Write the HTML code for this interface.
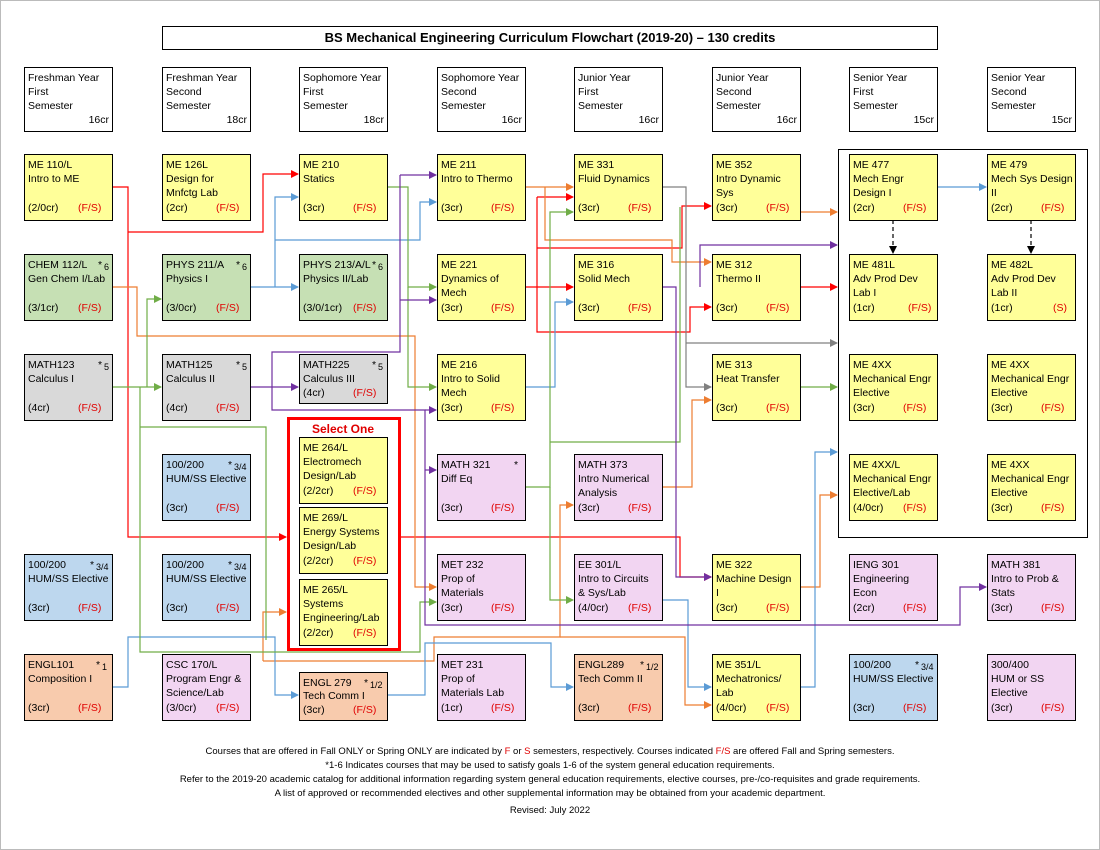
<!DOCTYPE html>
<html><head><meta charset="utf-8"><style>
body{margin:0;background:#fff}
svg{display:block}
text{font-family:"Liberation Sans",sans-serif;font-size:10.5px;fill:#000}
.s{fill:#e00000}
.n{font-size:9px}
.f{font-size:9.5px}
rect.b{stroke:#000;stroke-width:1}
.c{fill:none;stroke-width:1.2}
</style></head><body>
<svg width="1100" height="850" viewBox="0 0 1100 850" xmlns="http://www.w3.org/2000/svg">
<defs>
<marker id="r" markerWidth="8" markerHeight="8" refX="7" refY="4" orient="auto" markerUnits="userSpaceOnUse"><path d="M0,0L8,4L0,8z" fill="#ff0000"/></marker>
<marker id="o" markerWidth="8" markerHeight="8" refX="7" refY="4" orient="auto" markerUnits="userSpaceOnUse"><path d="M0,0L8,4L0,8z" fill="#ed7d31"/></marker>
<marker id="bl" markerWidth="8" markerHeight="8" refX="7" refY="4" orient="auto" markerUnits="userSpaceOnUse"><path d="M0,0L8,4L0,8z" fill="#5b9bd5"/></marker>
<marker id="g" markerWidth="8" markerHeight="8" refX="7" refY="4" orient="auto" markerUnits="userSpaceOnUse"><path d="M0,0L8,4L0,8z" fill="#70ad47"/></marker>
<marker id="p" markerWidth="8" markerHeight="8" refX="7" refY="4" orient="auto" markerUnits="userSpaceOnUse"><path d="M0,0L8,4L0,8z" fill="#7030a0"/></marker>
<marker id="gr" markerWidth="8" markerHeight="8" refX="7" refY="4" orient="auto" markerUnits="userSpaceOnUse"><path d="M0,0L8,4L0,8z" fill="#808080"/></marker>
<marker id="k" markerWidth="8" markerHeight="8" refX="7" refY="4" orient="auto" markerUnits="userSpaceOnUse"><path d="M0,0L8,4L0,8z" fill="#000"/></marker>
</defs>
<rect x="0.5" y="0.5" width="1099" height="849" fill="#fff" stroke="#bbb"/>
<!-- title -->
<rect x="162.5" y="26.5" width="775" height="23" fill="#fff" stroke="#000"/>
<text x="550" y="42" text-anchor="middle" style="font-size:13px;font-weight:bold">BS Mechanical Engineering Curriculum Flowchart (2019-20) – 130 credits</text>
<!-- headers -->
<g>
<rect x="24.5" y="67.5" width="88" height="64" fill="#fff" stroke="#000"/><text x="28" y="81">Freshman Year</text><text x="28" y="95">First</text><text x="28" y="109">Semester</text><text x="109" y="123" text-anchor="end">16cr</text>
<rect x="162.5" y="67.5" width="88" height="64" fill="#fff" stroke="#000"/><text x="166" y="81">Freshman Year</text><text x="166" y="95">Second</text><text x="166" y="109">Semester</text><text x="247" y="123" text-anchor="end">18cr</text>
<rect x="299.5" y="67.5" width="88" height="64" fill="#fff" stroke="#000"/><text x="303" y="81">Sophomore Year</text><text x="303" y="95">First</text><text x="303" y="109">Semester</text><text x="384" y="123" text-anchor="end">18cr</text>
<rect x="437.5" y="67.5" width="88" height="64" fill="#fff" stroke="#000"/><text x="441" y="81">Sophomore Year</text><text x="441" y="95">Second</text><text x="441" y="109">Semester</text><text x="522" y="123" text-anchor="end">16cr</text>
<rect x="574.5" y="67.5" width="88" height="64" fill="#fff" stroke="#000"/><text x="578" y="81">Junior Year</text><text x="578" y="95">First</text><text x="578" y="109">Semester</text><text x="659" y="123" text-anchor="end">16cr</text>
<rect x="712.5" y="67.5" width="88" height="64" fill="#fff" stroke="#000"/><text x="716" y="81">Junior Year</text><text x="716" y="95">Second</text><text x="716" y="109">Semester</text><text x="797" y="123" text-anchor="end">16cr</text>
<rect x="849.5" y="67.5" width="88" height="64" fill="#fff" stroke="#000"/><text x="853" y="81">Senior Year</text><text x="853" y="95">First</text><text x="853" y="109">Semester</text><text x="934" y="123" text-anchor="end">15cr</text>
<rect x="987.5" y="67.5" width="88" height="64" fill="#fff" stroke="#000"/><text x="991" y="81">Senior Year</text><text x="991" y="95">Second</text><text x="991" y="109">Semester</text><text x="1072" y="123" text-anchor="end">15cr</text>
</g>
<!-- containers -->
<rect x="838.5" y="149.5" width="249" height="388" fill="none" stroke="#000"/>
<rect x="288.5" y="418.5" width="111" height="231" fill="none" stroke="#ff0000" stroke-width="3"/>
<text x="343" y="433" text-anchor="middle" style="font-size:12px;font-weight:bold;fill:#e00000">Select One</text>

<!-- connectors -->
<g class="c">
<path stroke="#ff0000" d="M112,187H128V537H286" marker-end="url(#r)"/>
<path stroke="#ff0000" d="M128,232H263V174H298" marker-end="url(#r)"/>
<path stroke="#ff0000" d="M400,537H680V577H711" marker-end="url(#r)"/>
<path stroke="#ff0000" d="M525,287H573" marker-end="url(#r)"/>
<path stroke="#ff0000" d="M537,197H573" marker-end="url(#r)"/>
<path stroke="#ff0000" d="M537,197V332H690V307H711" marker-end="url(#r)"/>
<path stroke="#ff0000" d="M537,248H682V206H711" marker-end="url(#r)"/>
<path stroke="#ff0000" d="M800,287H837" marker-end="url(#r)"/>

<path stroke="#ed7d31" d="M525,187H573" marker-end="url(#o)"/>
<path stroke="#ed7d31" d="M545,187V240H672V262H711" marker-end="url(#o)"/>
<path stroke="#ed7d31" d="M112,287H137V336H415V587H436" marker-end="url(#o)"/>
<path stroke="#ed7d31" d="M800,212H837" marker-end="url(#o)"/>
<path stroke="#ed7d31" d="M662,487H692V400H711" marker-end="url(#o)"/>
<path stroke="#ed7d31" d="M263,661H434V637H560V505H573" marker-end="url(#o)"/>
<path stroke="#ed7d31" d="M263,661V612H286" marker-end="url(#o)"/>
<path stroke="#ed7d31" d="M560,637H685V705H711" marker-end="url(#o)"/>
<path stroke="#ed7d31" d="M800,587H820V495H837" marker-end="url(#o)"/>

<path stroke="#5b9bd5" d="M250,287H298" marker-end="url(#bl)"/>
<path stroke="#5b9bd5" d="M275,287V197H298" marker-end="url(#bl)"/>
<path stroke="#5b9bd5" d="M275,240H420V202H436" marker-end="url(#bl)"/>
<path stroke="#5b9bd5" d="M525,387H555V302H573" marker-end="url(#bl)"/>
<path stroke="#5b9bd5" d="M937,187H986" marker-end="url(#bl)"/>
<path stroke="#5b9bd5" d="M112,687H128V637H275V695H298" marker-end="url(#bl)"/>
<path stroke="#5b9bd5" d="M387,695H425V643H551V687H573" marker-end="url(#bl)"/>
<path stroke="#5b9bd5" d="M662,600H688V687H711" marker-end="url(#bl)"/>
<path stroke="#5b9bd5" d="M800,687H815V452H837" marker-end="url(#bl)"/>

<path stroke="#808080" d="M662,187H686V387H711" marker-end="url(#gr)"/>
<path stroke="#808080" d="M686,343H837" marker-end="url(#gr)"/>

<path stroke="#70ad47" d="M112,387H161" marker-end="url(#g)"/>
<path stroke="#70ad47" d="M147,387V299H161" marker-end="url(#g)"/>
<path stroke="#70ad47" d="M140,387V652H420V602H436" marker-end="url(#g)"/>
<path stroke="#70ad47" d="M140,427H266V640"/>
<path stroke="#70ad47" d="M387,187H408V287H436" marker-end="url(#g)"/>
<path stroke="#70ad47" d="M408,287V387H436" marker-end="url(#g)"/>
<path stroke="#70ad47" d="M525,487H550V212H573" marker-end="url(#g)"/>
<path stroke="#70ad47" d="M550,487V600H573" marker-end="url(#g)"/>
<path stroke="#70ad47" d="M550,442H680V207"/>
<path stroke="#70ad47" d="M800,387H837" marker-end="url(#g)"/>

<path stroke="#7030a0" d="M250,387H298" marker-end="url(#p)"/>
<path stroke="#7030a0" d="M400,175V352H272V410H425V625H960V587H986" marker-end="url(#p)"/>
<path stroke="#7030a0" d="M400,175H436" marker-end="url(#p)"/>
<path stroke="#7030a0" d="M400,300H436" marker-end="url(#p)"/>
<path stroke="#7030a0" d="M425,410H436" marker-end="url(#p)"/>
<path stroke="#7030a0" d="M425,470H436" marker-end="url(#p)"/>
<path stroke="#7030a0" d="M662,287H676V577H711" marker-end="url(#p)"/>
<path stroke="#7030a0" d="M700,287V245H837" marker-end="url(#p)"/>

<path stroke="#000" stroke-dasharray="4,3" d="M893,220V253" marker-end="url(#k)"/>
<path stroke="#000" stroke-dasharray="4,3" d="M1031,220V253" marker-end="url(#k)"/>
</g>

<!-- Row 1 -->
<g>
<rect class="b" x="24.5" y="154.5" width="88" height="66" fill="#ffff99"/><text x="28" y="168">ME 110/L</text><text x="28" y="182">Intro to ME</text><text x="28" y="211">(2/0cr)</text><text class="s" x="78" y="211">(F/S)</text>
<rect class="b" x="162.5" y="154.5" width="88" height="66" fill="#ffff99"/><text x="166" y="168">ME 126L</text><text x="166" y="182">Design for</text><text x="166" y="196">Mnfctg Lab</text><text x="166" y="211">(2cr)</text><text class="s" x="216" y="211">(F/S)</text>
<rect class="b" x="299.5" y="154.5" width="88" height="66" fill="#ffff99"/><text x="303" y="168">ME 210</text><text x="303" y="182">Statics</text><text x="303" y="211">(3cr)</text><text class="s" x="353" y="211">(F/S)</text>
<rect class="b" x="437.5" y="154.5" width="88" height="66" fill="#ffff99"/><text x="441" y="168">ME 211</text><text x="441" y="182">Intro to Thermo</text><text x="441" y="211">(3cr)</text><text class="s" x="491" y="211">(F/S)</text>
<rect class="b" x="574.5" y="154.5" width="88" height="66" fill="#ffff99"/><text x="578" y="168">ME 331</text><text x="578" y="182">Fluid Dynamics</text><text x="578" y="211">(3cr)</text><text class="s" x="628" y="211">(F/S)</text>
<rect class="b" x="712.5" y="154.5" width="88" height="66" fill="#ffff99"/><text x="716" y="168">ME 352</text><text x="716" y="182">Intro Dynamic</text><text x="716" y="196">Sys</text><text x="716" y="211">(3cr)</text><text class="s" x="766" y="211">(F/S)</text>
<rect class="b" x="849.5" y="154.5" width="88" height="66" fill="#ffff99"/><text x="853" y="168">ME 477</text><text x="853" y="182">Mech Engr</text><text x="853" y="196">Design I</text><text x="853" y="211">(2cr)</text><text class="s" x="903" y="211">(F/S)</text>
<rect class="b" x="987.5" y="154.5" width="88" height="66" fill="#ffff99"/><text x="991" y="168">ME 479</text><text x="991" y="182">Mech Sys Design</text><text x="991" y="196">II</text><text x="991" y="211">(2cr)</text><text class="s" x="1041" y="211">(F/S)</text>
</g>
<!-- Row 2 -->
<g>
<rect class="b" x="24.5" y="254.5" width="88" height="66" fill="#c6e0b4"/><text x="28" y="268">CHEM 112/L</text><text x="98" y="268">*</text><text class="n" x="104" y="270">6</text><text x="28" y="282">Gen Chem I/Lab</text><text x="28" y="311">(3/1cr)</text><text class="s" x="78" y="311">(F/S)</text>
<rect class="b" x="162.5" y="254.5" width="88" height="66" fill="#c6e0b4"/><text x="166" y="268">PHYS 211/A</text><text x="236" y="268">*</text><text class="n" x="242" y="270">6</text><text x="166" y="282">Physics I</text><text x="166" y="311">(3/0cr)</text><text class="s" x="216" y="311">(F/S)</text>
<rect class="b" x="299.5" y="254.5" width="88" height="66" fill="#c6e0b4"/><text x="303" y="268">PHYS 213/A/L</text><text x="372" y="268">*</text><text class="n" x="378" y="270">6</text><text x="303" y="282">Physics II/Lab</text><text x="303" y="311">(3/0/1cr)</text><text class="s" x="353" y="311">(F/S)</text>
<rect class="b" x="437.5" y="254.5" width="88" height="66" fill="#ffff99"/><text x="441" y="268">ME 221</text><text x="441" y="282">Dynamics of</text><text x="441" y="296">Mech</text><text x="441" y="311">(3cr)</text><text class="s" x="491" y="311">(F/S)</text>
<rect class="b" x="574.5" y="254.5" width="88" height="66" fill="#ffff99"/><text x="578" y="268">ME 316</text><text x="578" y="282">Solid Mech</text><text x="578" y="311">(3cr)</text><text class="s" x="628" y="311">(F/S)</text>
<rect class="b" x="712.5" y="254.5" width="88" height="66" fill="#ffff99"/><text x="716" y="268">ME 312</text><text x="716" y="282">Thermo II</text><text x="716" y="311">(3cr)</text><text class="s" x="766" y="311">(F/S)</text>
<rect class="b" x="849.5" y="254.5" width="88" height="66" fill="#ffff99"/><text x="853" y="268">ME 481L</text><text x="853" y="282">Adv Prod Dev</text><text x="853" y="296">Lab I</text><text x="853" y="311">(1cr)</text><text class="s" x="908" y="311">(F/S)</text>
<rect class="b" x="987.5" y="254.5" width="88" height="66" fill="#ffff99"/><text x="991" y="268">ME 482L</text><text x="991" y="282">Adv Prod Dev</text><text x="991" y="296">Lab II</text><text x="991" y="311">(1cr)</text><text class="s" x="1053" y="311">(S)</text>
</g>
<!-- Row 3 -->
<g>
<rect class="b" x="24.5" y="354.5" width="88" height="66" fill="#d9d9d9"/><text x="28" y="368">MATH123</text><text x="98" y="368">*</text><text class="n" x="104" y="370">5</text><text x="28" y="382">Calculus I</text><text x="28" y="411">(4cr)</text><text class="s" x="78" y="411">(F/S)</text>
<rect class="b" x="162.5" y="354.5" width="88" height="66" fill="#d9d9d9"/><text x="166" y="368">MATH125</text><text x="236" y="368">*</text><text class="n" x="242" y="370">5</text><text x="166" y="382">Calculus II</text><text x="166" y="411">(4cr)</text><text class="s" x="216" y="411">(F/S)</text>
<rect class="b" x="299.5" y="354.5" width="88" height="49" fill="#d9d9d9"/><text x="303" y="368">MATH225</text><text x="372" y="368">*</text><text class="n" x="378" y="370">5</text><text x="303" y="382">Calculus III</text><text x="303" y="396">(4cr)</text><text class="s" x="353" y="396">(F/S)</text>
<rect class="b" x="437.5" y="354.5" width="88" height="66" fill="#ffff99"/><text x="441" y="368">ME 216</text><text x="441" y="382">Intro to Solid</text><text x="441" y="396">Mech</text><text x="441" y="411">(3cr)</text><text class="s" x="491" y="411">(F/S)</text>
<rect class="b" x="712.5" y="354.5" width="88" height="66" fill="#ffff99"/><text x="716" y="368">ME 313</text><text x="716" y="382">Heat Transfer</text><text x="716" y="411">(3cr)</text><text class="s" x="766" y="411">(F/S)</text>
<rect class="b" x="849.5" y="354.5" width="88" height="66" fill="#ffff99"/><text x="853" y="368">ME 4XX</text><text x="853" y="382">Mechanical Engr</text><text x="853" y="396">Elective</text><text x="853" y="411">(3cr)</text><text class="s" x="903" y="411">(F/S)</text>
<rect class="b" x="987.5" y="354.5" width="88" height="66" fill="#ffff99"/><text x="991" y="368">ME 4XX</text><text x="991" y="382">Mechanical Engr</text><text x="991" y="396">Elective</text><text x="991" y="411">(3cr)</text><text class="s" x="1041" y="411">(F/S)</text>
</g>
<!-- Row 4 -->
<g>
<rect class="b" x="162.5" y="454.5" width="88" height="66" fill="#bdd7ee"/><text x="166" y="468">100/200</text><text x="228" y="468">*</text><text class="n" x="234" y="470">3/4</text><text x="166" y="482">HUM/SS Elective</text><text x="166" y="511">(3cr)</text><text class="s" x="216" y="511">(F/S)</text>
<rect class="b" x="299.5" y="437.5" width="88" height="66" fill="#ffff99"/><text x="303" y="451">ME 264/L</text><text x="303" y="465">Electromech</text><text x="303" y="479">Design/Lab</text><text x="303" y="494">(2/2cr)</text><text class="s" x="353" y="494">(F/S)</text>
<rect class="b" x="299.5" y="507.5" width="88" height="66" fill="#ffff99"/><text x="303" y="521">ME 269/L</text><text x="303" y="535">Energy Systems</text><text x="303" y="549">Design/Lab</text><text x="303" y="564">(2/2cr)</text><text class="s" x="353" y="564">(F/S)</text>
<rect class="b" x="299.5" y="579.5" width="88" height="66" fill="#ffff99"/><text x="303" y="593">ME 265/L</text><text x="303" y="607">Systems</text><text x="303" y="621">Engineering/Lab</text><text x="303" y="636">(2/2cr)</text><text class="s" x="353" y="636">(F/S)</text>
<rect class="b" x="437.5" y="454.5" width="88" height="66" fill="#f2d5f2"/><text x="441" y="468">MATH 321</text><text x="514" y="468">*</text><text x="441" y="482">Diff Eq</text><text x="441" y="511">(3cr)</text><text class="s" x="491" y="511">(F/S)</text>
<rect class="b" x="574.5" y="454.5" width="88" height="66" fill="#f2d5f2"/><text x="578" y="468">MATH 373</text><text x="578" y="482">Intro Numerical</text><text x="578" y="496">Analysis</text><text x="578" y="511">(3cr)</text><text class="s" x="628" y="511">(F/S)</text>
<rect class="b" x="849.5" y="454.5" width="88" height="66" fill="#ffff99"/><text x="853" y="468">ME 4XX/L</text><text x="853" y="482">Mechanical Engr</text><text x="853" y="496">Elective/Lab</text><text x="853" y="511">(4/0cr)</text><text class="s" x="903" y="511">(F/S)</text>
<rect class="b" x="987.5" y="454.5" width="88" height="66" fill="#ffff99"/><text x="991" y="468">ME 4XX</text><text x="991" y="482">Mechanical Engr</text><text x="991" y="496">Elective</text><text x="991" y="511">(3cr)</text><text class="s" x="1041" y="511">(F/S)</text>
</g>
<!-- Row 5 -->
<g>
<rect class="b" x="24.5" y="554.5" width="88" height="66" fill="#bdd7ee"/><text x="28" y="568">100/200</text><text x="90" y="568">*</text><text class="n" x="96" y="570">3/4</text><text x="28" y="582">HUM/SS Elective</text><text x="28" y="611">(3cr)</text><text class="s" x="78" y="611">(F/S)</text>
<rect class="b" x="162.5" y="554.5" width="88" height="66" fill="#bdd7ee"/><text x="166" y="568">100/200</text><text x="228" y="568">*</text><text class="n" x="234" y="570">3/4</text><text x="166" y="582">HUM/SS Elective</text><text x="166" y="611">(3cr)</text><text class="s" x="216" y="611">(F/S)</text>
<rect class="b" x="437.5" y="554.5" width="88" height="66" fill="#f2d5f2"/><text x="441" y="568">MET 232</text><text x="441" y="582">Prop of</text><text x="441" y="596">Materials</text><text x="441" y="611">(3cr)</text><text class="s" x="491" y="611">(F/S)</text>
<rect class="b" x="574.5" y="554.5" width="88" height="66" fill="#f2d5f2"/><text x="578" y="568">EE 301/L</text><text x="578" y="582">Intro to Circuits</text><text x="578" y="596">&amp; Sys/Lab</text><text x="578" y="611">(4/0cr)</text><text class="s" x="628" y="611">(F/S)</text>
<rect class="b" x="712.5" y="554.5" width="88" height="66" fill="#ffff99"/><text x="716" y="568">ME 322</text><text x="716" y="582">Machine Design</text><text x="716" y="596">I</text><text x="716" y="611">(3cr)</text><text class="s" x="766" y="611">(F/S)</text>
<rect class="b" x="849.5" y="554.5" width="88" height="66" fill="#f2d5f2"/><text x="853" y="568">IENG 301</text><text x="853" y="582">Engineering</text><text x="853" y="596">Econ</text><text x="853" y="611">(2cr)</text><text class="s" x="903" y="611">(F/S)</text>
<rect class="b" x="987.5" y="554.5" width="88" height="66" fill="#f2d5f2"/><text x="991" y="568">MATH 381</text><text x="991" y="582">Intro to Prob &amp;</text><text x="991" y="596">Stats</text><text x="991" y="611">(3cr)</text><text class="s" x="1041" y="611">(F/S)</text>
</g>
<!-- Row 6 -->
<g>
<rect class="b" x="24.5" y="654.5" width="88" height="66" fill="#f8cbad"/><text x="28" y="668">ENGL101</text><text x="96" y="668">*</text><text class="n" x="102" y="670">1</text><text x="28" y="682">Composition I</text><text x="28" y="711">(3cr)</text><text class="s" x="78" y="711">(F/S)</text>
<rect class="b" x="162.5" y="654.5" width="88" height="66" fill="#f2d5f2"/><text x="166" y="668">CSC 170/L</text><text x="166" y="682">Program Engr &amp;</text><text x="166" y="696">Science/Lab</text><text x="166" y="711">(3/0cr)</text><text class="s" x="216" y="711">(F/S)</text>
<rect class="b" x="299.5" y="672.5" width="88" height="48" fill="#f8cbad"/><text x="303" y="686">ENGL 279</text><text x="364" y="686">*</text><text class="n" x="370" y="688">1/2</text><text x="303" y="699">Tech Comm I</text><text x="303" y="713">(3cr)</text><text class="s" x="353" y="713">(F/S)</text>
<rect class="b" x="437.5" y="654.5" width="88" height="66" fill="#f2d5f2"/><text x="441" y="668">MET 231</text><text x="441" y="682">Prop of</text><text x="441" y="696">Materials Lab</text><text x="441" y="711">(1cr)</text><text class="s" x="491" y="711">(F/S)</text>
<rect class="b" x="574.5" y="654.5" width="88" height="66" fill="#f8cbad"/><text x="578" y="668">ENGL289</text><text x="640" y="668">*</text><text class="n" x="646" y="670">1/2</text><text x="578" y="682">Tech Comm II</text><text x="578" y="711">(3cr)</text><text class="s" x="628" y="711">(F/S)</text>
<rect class="b" x="712.5" y="654.5" width="88" height="66" fill="#ffff99"/><text x="716" y="668">ME 351/L</text><text x="716" y="682">Mechatronics/</text><text x="716" y="696">Lab</text><text x="716" y="711">(4/0cr)</text><text class="s" x="766" y="711">(F/S)</text>
<rect class="b" x="849.5" y="654.5" width="88" height="66" fill="#bdd7ee"/><text x="853" y="668">100/200</text><text x="915" y="668">*</text><text class="n" x="921" y="670">3/4</text><text x="853" y="682">HUM/SS Elective</text><text x="853" y="711">(3cr)</text><text class="s" x="903" y="711">(F/S)</text>
<rect class="b" x="987.5" y="654.5" width="88" height="66" fill="#f2d5f2"/><text x="991" y="668">300/400</text><text x="991" y="682">HUM or SS</text><text x="991" y="696">Elective</text><text x="991" y="711">(3cr)</text><text class="s" x="1041" y="711">(F/S)</text>
</g>
<!-- footer -->
<g text-anchor="middle">
<text class="f" x="550" y="754">Courses that are offered in Fall ONLY or Spring ONLY are indicated by <tspan class="s">F</tspan> or <tspan class="s">S</tspan> semesters, respectively. Courses indicated <tspan class="s">F/S</tspan> are offered Fall and Spring semesters.</text>
<text class="f" x="550" y="768">*1-6 Indicates courses that may be used to satisfy goals 1-6 of the system general education requirements.</text>
<text class="f" x="550" y="782">Refer to the 2019-20 academic catalog for additional information regarding system general education requirements, elective courses, pre-/co-requisites and grade requirements.</text>
<text class="f" x="550" y="796">A list of approved or recommended electives and other supplemental information may be obtained from your academic department.</text>
<text class="f" x="550" y="813">Revised: July 2022</text>
</g>
</svg>
</body></html>
